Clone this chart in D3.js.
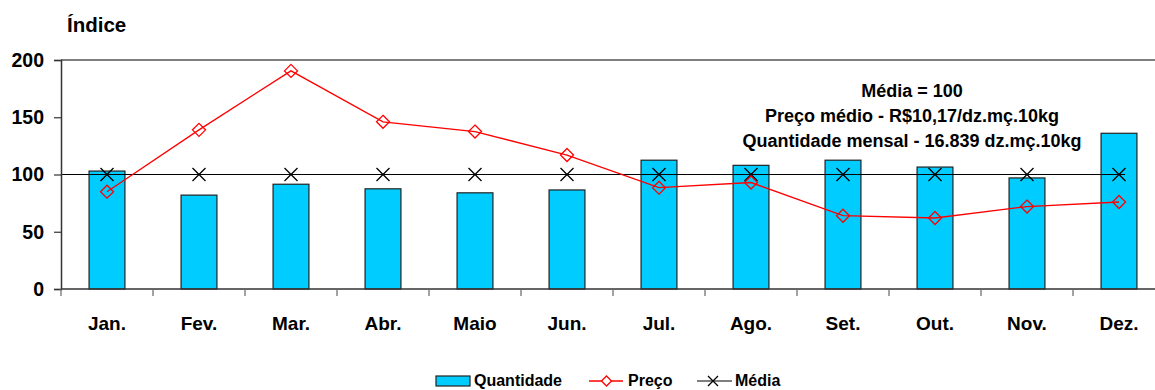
<!DOCTYPE html>
<html>
<head>
<meta charset="utf-8">
<script src="https://cdn.jsdelivr.net/npm/d3@7"></script>
<style>
  html, body { margin: 0; padding: 0; background: #fff; }
  svg { display: block; font-family: "Liberation Sans", Arial, sans-serif; }
</style>
</head>
<body>
<script>
const categories = ["Jan.", "Fev.", "Mar.", "Abr.", "Maio", "Jun.", "Jul.", "Ago.", "Set.", "Out.", "Nov.", "Dez."];
const quantidade = [103, 82, 91.5, 87.5, 84, 86.5, 112.5, 108, 112.5, 106.5, 97, 136];
const preco = [85, 139, 190.5, 146, 137.5, 117, 88.5, 93, 64, 62, 72, 76];
const media = [100, 100, 100, 100, 100, 100, 100, 100, 100, 100, 100, 100];
const yTicks = [0, 50, 100, 150, 200];
const annotation = ["Média = 100", "Preço médio - R$10,17/dz.mç.10kg", "Quantidade mensal - 16.839 dz.mç.10kg"];
const legendLabels = ["Quantidade", "Preço", "Média"];

(function () {
const W = 1155, H = 390;
const svg = d3.select("body").append("svg").attr("width", W).attr("height", H);

const pLeft = 61, pRight = 1165, pTop = 60, pBottom = 289;
const x = d3.scaleBand().domain(categories).range([pLeft, pRight]).paddingInner(0).paddingOuter(0);
const y = d3.scaleLinear().domain([0, 200]).range([pBottom, pTop]);
const bw = x.bandwidth();
const barW = bw * 0.39;
const cx = c => x(c) + bw / 2;

// top frame line
svg.append("line").attr("x1", pLeft).attr("x2", W).attr("y1", y(200)).attr("y2", y(200))
  .attr("stroke", "#555").attr("stroke-width", 1.5);

// bars
svg.append("g").selectAll("rect").data(categories).join("rect")
  .attr("x", c => cx(c) - barW / 2)
  .attr("y", (c, i) => y(quantidade[i]))
  .attr("width", barW)
  .attr("height", (c, i) => y(0) - y(quantidade[i]))
  .attr("fill", "#00CCFF").attr("stroke", "#222").attr("stroke-width", 1.2);

// Média line
svg.append("line")
  .attr("x1", pLeft).attr("x2", cx(categories[categories.length - 1]) + 6)
  .attr("y1", y(media[0])).attr("y2", y(media[0]))
  .attr("stroke", "#000").attr("stroke-width", 1.2);

// Média markers (X)
const xs = 6.5;
const mg = svg.append("g");
categories.forEach((c, i) => {
  const px = cx(c), py = y(media[i]);
  mg.append("path")
    .attr("d", `M${px - xs},${py - xs}L${px + xs},${py + xs}M${px - xs},${py + xs}L${px + xs},${py - xs}`)
    .attr("stroke", "#000").attr("stroke-width", 1.3).attr("fill", "none");
});

// Preço line
const line = d3.line().x((d, i) => cx(categories[i])).y(d => y(d));
svg.append("path").datum(preco).attr("d", line)
  .attr("fill", "none").attr("stroke", "#FF0000").attr("stroke-width", 1.3);
const ds = 6.5;
svg.append("g").selectAll("path").data(preco).join("path")
  .attr("d", (d, i) => {
    const px = cx(categories[i]), py = y(d);
    return `M${px},${py - ds}L${px + ds},${py}L${px},${py + ds}L${px - ds},${py}Z`;
  })
  .attr("fill", "none").attr("stroke", "#FF0000").attr("stroke-width", 1.3);

// Y axis
const yAxis = d3.axisLeft(y).tickValues(yTicks).tickSize(7).tickPadding(10).tickFormat(d3.format("d"));
const gy = svg.append("g").attr("transform", `translate(${pLeft},0)`).call(yAxis);
gy.select(".domain").attr("stroke", "#333").attr("stroke-width", 1.5);
gy.selectAll(".tick line").attr("stroke", "#333").attr("stroke-width", 1.2);
gy.selectAll(".tick text").attr("font-size", 19.5).attr("font-weight", "bold")
  .attr("fill", "#000").attr("font-family", "Liberation Sans, Arial, sans-serif");

// X axis
const gx = svg.append("g").attr("transform", `translate(0,${pBottom})`);
gx.append("line").attr("x1", pLeft).attr("x2", W).attr("y1", 0).attr("y2", 0)
  .attr("stroke", "#333").attr("stroke-width", 1.5);
const bounds = categories.map(c => x(c));
gx.selectAll("line.tk").data(bounds).join("line").attr("class", "tk")
  .attr("x1", d => d).attr("x2", d => d).attr("y1", 0).attr("y2", 7)
  .attr("stroke", "#666").attr("stroke-width", 1.2);
gx.selectAll("text").data(categories).join("text")
  .attr("x", c => cx(c)).attr("y", 41)
  .attr("text-anchor", "middle").attr("font-size", 19).attr("font-weight", "bold").attr("fill", "#000")
  .text(c => c);

// Y title
svg.append("text").attr("x", 67).attr("y", 32).attr("font-size", 20.5).attr("font-weight", "bold")
  .attr("fill", "#000").text("Índice");

// annotation
svg.append("g").selectAll("text").data(annotation).join("text")
  .attr("x", 912).attr("y", (d, i) => 97 + i * 25)
  .attr("text-anchor", "middle").attr("font-size", 18).attr("font-weight", "bold").attr("fill", "#000")
  .text(d => d);

// legend
const lg = svg.append("g");
const ly = 381;
lg.append("rect").attr("x", 436).attr("y", 376).attr("width", 34).attr("height", 10)
  .attr("fill", "#00CCFF").attr("stroke", "#222").attr("stroke-width", 1.2);
lg.append("text").attr("x", 474).attr("y", 386).attr("font-size", 16).attr("font-weight", "bold").text(legendLabels[0]);
lg.append("line").attr("x1", 589).attr("x2", 623).attr("y1", ly).attr("y2", ly).attr("stroke", "#FF0000").attr("stroke-width", 1.3);
lg.append("path").attr("d", `M606.5,${ly - 5}L611.5,${ly}L606.5,${ly + 5}L601.5,${ly}Z`)
  .attr("fill", "#fff").attr("stroke", "#FF0000").attr("stroke-width", 1.3);
lg.append("text").attr("x", 628).attr("y", 386).attr("font-size", 16).attr("font-weight", "bold").text(legendLabels[1]);
lg.append("line").attr("x1", 697).attr("x2", 732).attr("y1", ly).attr("y2", ly).attr("stroke", "#000").attr("stroke-width", 1.2);
lg.append("path").attr("d", `M708,${ly - 5}L718,${ly + 5}M708,${ly + 5}L718,${ly - 5}`)
  .attr("stroke", "#000").attr("stroke-width", 1.3);
lg.append("text").attr("x", 735).attr("y", 386).attr("font-size", 16).attr("font-weight", "bold").text(legendLabels[2]);
})();
</script>
</body>
</html>
